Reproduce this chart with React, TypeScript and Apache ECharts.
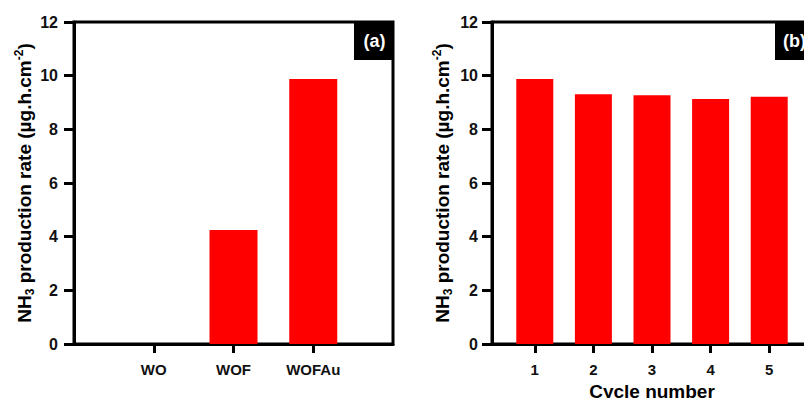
import React, { useEffect, useRef } from "react";
import * as echarts from "echarts";

// Panel (a)
const categoriesA = ["WO", "WOF", "WOFAu"];
const valuesA = [0, 4.25, 9.88];
// Panel (b)
const cycles = ["1", "2", "3", "4", "5"];
const valuesB = [9.88, 9.31, 9.27, 9.13, 9.21];
const yMin = 0;
const yMax = 12;
const yStep = 2;
const panelLabels = ["(a)", "(b)"];

const FONT = "'Liberation Sans', Arial, sans-serif";

const yName =
  "{b|NH}{s|3}{b| production rate (µg.h.cm}{p|-2}{b|)}";

const yNameStyle = {
  rich: {
    b: { fontSize: 19, fontWeight: "bold", fontFamily: FONT, color: "#000", lineHeight: 23 },
    s: { fontSize: 12, fontWeight: "bold", fontFamily: FONT, color: "#000", lineHeight: 12, verticalAlign: "bottom" },
    p: { fontSize: 12, fontWeight: "bold", fontFamily: FONT, color: "#000", lineHeight: 12, verticalAlign: "top" },
  },
};

function yAxisCfg(gridIndex: number, labelMargin: number, gap: number) {
  return {
    type: "value",
    gridIndex,
    min: yMin,
    max: yMax,
    interval: yStep,
    name: yName,
    nameLocation: "middle",
    nameRotate: 90,
    nameGap: gap,
    nameTextStyle: yNameStyle,
    axisLine: { show: true, lineStyle: { color: "#000", width: 3 } },
    axisTick: { show: true, length: 10, lineStyle: { color: "#000", width: 3 } },
    axisLabel: { margin: labelMargin, fontSize: 16, fontWeight: "bold", fontFamily: FONT, color: "#111" },
    splitLine: { show: false },
  };
}

export default function App() {
  const ref = useRef<HTMLDivElement>(null);
  useEffect(() => {
    if (!ref.current) return;
    const chart = echarts.init(ref.current, null, { renderer: "svg" });
    const xA = categoriesA.map((_, i) => i + 1);
    const xB = cycles.map((_, i) => i + 1);
    const option: any = {
      animation: false,
      backgroundColor: "#fff",
      grid: [
        { left: 74, top: 22, width: 319, height: 322, show: true, borderColor: "#000", borderWidth: 3, backgroundColor: "transparent", outerBoundsMode: "none", containLabel: false },
        { left: 492, top: 22, width: 320, height: 322, show: true, borderColor: "#000", borderWidth: 3, backgroundColor: "transparent", outerBoundsMode: "none", containLabel: false },
      ],
      xAxis: [
        {
          type: "value",
          gridIndex: 0,
          min: 0,
          max: categoriesA.length + 1,
          axisLine: { show: true, lineStyle: { color: "#000", width: 3 } },
          axisTick: { show: true, length: 9, customValues: xA, lineStyle: { color: "#000", width: 3 } },
          axisLabel: {
            customValues: xA,
            margin: 18,
            fontSize: 15,
            fontWeight: "bold",
            fontFamily: FONT,
            color: "#111",
            formatter: (v: number) => categoriesA[Math.round(v) - 1] ?? "",
          },
          splitLine: { show: false },
        },
        {
          type: "value",
          gridIndex: 1,
          min: 0.27,
          max: 5.73,
          name: "Cycle number",
          nameLocation: "middle",
          nameGap: 35,
          nameTextStyle: { fontSize: 19, fontWeight: "bold", fontFamily: FONT, color: "#000" },
          axisLine: { show: true, lineStyle: { color: "#000", width: 3 } },
          axisTick: { show: true, length: 9, customValues: xB, lineStyle: { color: "#000", width: 3 } },
          axisLabel: {
            customValues: xB,
            margin: 18,
            fontSize: 15,
            fontWeight: "bold",
            fontFamily: FONT,
            color: "#111",
            formatter: (v: number) => cycles[Math.round(v) - 1] ?? "",
          },
          splitLine: { show: false },
        },
      ],
      yAxis: [yAxisCfg(0, 16, 35), yAxisCfg(1, 14, 38)],
      series: [
        {
          type: "bar",
          xAxisIndex: 0,
          yAxisIndex: 0,
          barWidth: 48,
          itemStyle: { color: "#ff0000" },
          data: valuesA.map((v, i) => [xA[i], v]),
        },
        {
          type: "bar",
          xAxisIndex: 1,
          yAxisIndex: 1,
          barWidth: 37,
          itemStyle: { color: "#ff0000" },
          data: valuesB.map((v, i) => [xB[i], v]),
        },
      ],
      graphic: [
        { type: "rect", left: 354, top: 22, shape: { width: 39, height: 38 }, style: { fill: "#000" } },
        {
          type: "text", x: 374.5, y: 41,
          style: { text: panelLabels[0], fill: "#fff", font: `bold 18px ${FONT}`, align: "center", verticalAlign: "middle" },
        },
        { type: "rect", left: 775, top: 22, shape: { width: 40, height: 38 }, style: { fill: "#000" } },
        {
          type: "text", x: 794.5, y: 41,
          style: { text: panelLabels[1], fill: "#fff", font: `bold 18px ${FONT}`, align: "center", verticalAlign: "middle" },
        },
      ],
    };
    chart.setOption(option);
    return () => chart.dispose();
  }, []);
  return (
    <div
      ref={ref}
      style={{ position: "fixed", left: 0, top: 0, width: 804, height: 398 }}
    />
  );
}
